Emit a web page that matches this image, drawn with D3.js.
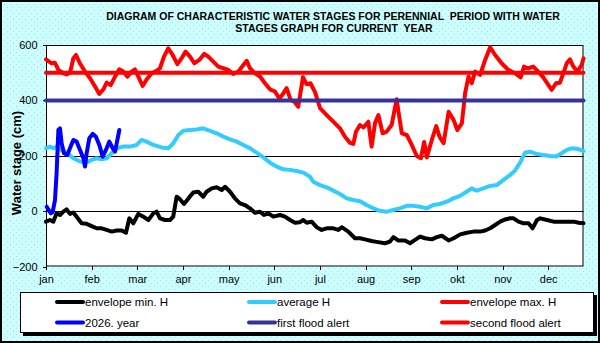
<!DOCTYPE html>
<html>
<head>
<meta charset="utf-8">
<script src="https://cdn.jsdelivr.net/npm/d3@7"></script>
<style>
  body { margin: 0; background: #fff; }
  svg { display: block; font-family: "Liberation Sans", Arial, sans-serif; }
</style>
</head>
<body>
<svg id="chart" width="600" height="343"></svg>
<script>
// month labels and the day of year where each tick sits
var months = ["jan","feb","mar","apr","may","jun","jul","aug","sep","okt","nov","dec"];
var monthDays = [0,31,62,93,124,155,186,217,248,279,310,341];
var yTicks = [-200,0,200,400,600];

// [day of year, water stage cm]
var envMin = [[0,-38],[2.7,-32],[5,-38],[7.2,-8],[9.5,-14],[11.8,-2],[14,6],[16.3,-10],[18.6,-5],[20.8,-20],[24.2,-44],[27.6,-46],[31,-54],[34.4,-62],[37.8,-62],[41.2,-68],[44.6,-74],[48,-70],[51.4,-70],[54.3,-78],[56.6,-26],[59.3,-44],[62.7,-10],[66.1,-20],[69.5,-32],[72.9,-8],[75.1,-2],[77.4,-26],[80.8,-32],[84.2,-32],[86.4,-20],[88.7,52],[91,43],[93.7,26],[96.7,46],[100,67],[103.4,70],[106.8,52],[109.1,70],[112.5,82],[115.9,86],[119.3,76],[121.6,88],[125,70],[128.3,46],[131.7,28],[135.1,22],[138.5,10],[141.9,-6],[145.3,-2],[148,-14],[151,-8],[154.4,-20],[158.9,-14],[162.3,-20],[165.7,-32],[169.1,-42],[172.5,-40],[174.7,-32],[177,-42],[180.4,-38],[183.8,-58],[187.2,-68],[190.6,-62],[195.1,-62],[198.5,-68],[200.8,-58],[205.3,-74],[209.8,-98],[213.2,-98],[216.6,-102],[221.1,-108],[224.5,-111],[230.2,-116],[233.6,-110],[235.9,-94],[239.3,-106],[243.8,-106],[247.2,-116],[250.6,-104],[254,-92],[257.4,-98],[262,-102],[265.4,-94],[268.8,-89],[273.4,-106],[276.8,-98],[281.3,-84],[285.8,-78],[290.3,-74],[294.8,-74],[298.2,-70],[301.6,-62],[305,-50],[308.4,-38],[311.8,-30],[315.2,-26],[317.5,-26],[320.9,-38],[324.3,-44],[327.7,-44],[330.4,-62],[333.4,-32],[335.6,-26],[340.2,-32],[344.7,-38],[349.2,-38],[353.8,-38],[358.3,-38],[361.7,-42],[365,-44]];

var average = [[0,227],[2.7,233],[5,227],[7.2,233],[9.5,223],[14,211],[18.6,191],[23.1,179],[27.6,176],[31,185],[34.4,191],[37.8,187],[41.2,191],[44.6,209],[48,227],[52.5,233],[57,233],[61.6,239],[64.9,257],[68.4,251],[72.9,239],[78.5,230],[83.1,227],[86.5,245],[89.9,275],[93.3,290],[97.8,293],[102.3,295],[106.8,299],[111.4,290],[115.9,281],[120.4,269],[124.9,259],[129.5,251],[134,239],[138.5,227],[143,211],[147.6,194],[152.1,175],[156.6,161],[161.2,151],[165.7,149],[170.2,145],[174.7,139],[179.3,124],[181.5,106],[186.1,94],[190.6,86],[195.1,74],[199.6,62],[204.2,46],[208.7,40],[213.2,36],[217.7,22],[222.3,10],[226.8,1],[231.3,-2],[235.8,4],[240.4,10],[244.9,19],[249.4,19],[254,16],[258.5,10],[263,22],[267.5,26],[272.1,34],[276.6,46],[281.1,55],[285.6,70],[289,82],[292.4,74],[296.9,82],[301.5,91],[306,94],[310.5,112],[315,130],[318.4,146],[321.8,173],[325.3,211],[328.7,215],[333.2,206],[337.7,203],[342.3,199],[346.3,197],[350.2,209],[353.6,221],[357,227],[361.5,224],[365,217]];

var envMax = [[0,548],[3.8,534],[6,536],[8.4,510],[11.8,498],[14,494],[16.3,500],[18.6,552],[20.4,564],[23,534],[26.5,504],[29.9,480],[33.3,450],[36.2,423],[39,440],[41.2,464],[43.9,455],[46.9,486],[49.8,512],[52.5,504],[55.2,486],[58.2,504],[60.4,512],[62.7,486],[65.6,452],[68.4,476],[71.8,498],[75.1,507],[77.4,516],[80.1,558],[83,588],[86,564],[89.2,531],[92.1,552],[94.8,576],[97.8,558],[100.7,534],[104.1,546],[107.5,568],[110.2,558],[113.6,540],[117,522],[120.4,516],[123.8,510],[127.2,495],[130.6,504],[134,528],[136.3,543],[138.5,516],[141.9,498],[145.3,486],[148.7,462],[152.1,440],[155.5,432],[158.4,407],[160,416],[163.4,444],[166.1,402],[168.6,395],[171.3,377],[174.5,484],[177,458],[179.6,462],[182.7,430],[186.1,372],[190.6,347],[195.1,323],[199.6,299],[203,269],[206.4,247],[208.7,243],[210.5,287],[213.2,311],[215.5,302],[218.9,323],[221.1,233],[223.4,317],[225.7,347],[228.6,281],[231.3,287],[234.7,311],[238.1,404],[241.6,281],[245,275],[248.4,239],[251.8,199],[254.6,191],[256.8,250],[258.6,194],[262,257],[265,307],[267.2,269],[270,245],[273.4,359],[276.8,329],[279.3,293],[282.4,317],[284.6,426],[286.9,486],[289.1,462],[291.4,504],[294.8,492],[298.2,546],[301.6,592],[305,564],[309.4,534],[313.9,510],[318.5,498],[322.3,483],[324.6,522],[327.5,516],[330.9,522],[334.3,504],[337.7,483],[341.1,456],[343.4,438],[346.3,462],[349,464],[351.3,498],[353.6,534],[355.8,548],[358.1,522],[360.8,504],[363.8,528],[365,552]];

var year2026 = [[0.5,16],[3.2,-8],[4.5,-4],[6.1,40],[7.2,137],[8.4,293],[9.5,299],[10.6,245],[12.2,209],[14.5,203],[16.7,233],[18.6,257],[20.8,251],[23.1,221],[25.4,191],[26.5,161],[27.6,209],[29.4,263],[31.7,279],[33.9,269],[36.2,239],[38.5,197],[40.7,221],[43,251],[45.3,227],[46.9,215],[48,245],[49.8,293]];

var firstAlert = [[0,400],[365,400]];
var secondAlert = [[0,500],[365,500]];

var series = [
  {name:"envelope min. H", data:envMin, color:"#000000"},
  {name:"average H", data:average, color:"#33ccff"},
  {name:"envelope max. H", data:envMax, color:"#ff0000"},
  {name:"2026. year", data:year2026, color:"#0000ff"},
  {name:"first flood alert", data:firstAlert, color:"#333399"},
  {name:"second flood alert", data:secondAlert, color:"#ff0000"}
];

var svg = d3.select("#chart");
var W = 600, H = 343;
var plotL = 46, plotR = 583.5, plotT = 45, plotB = 266.5;

var x = d3.scaleLinear().domain([0,365]).range([plotL,plotR]);
var y = d3.scaleLinear().domain([-200,600]).range([plotB,plotT]);

// dotted cyan backdrop
var defs = svg.append("defs");
var pat = defs.append("pattern").attr("id","dots")
  .attr("width",6).attr("height",6).attr("patternUnits","userSpaceOnUse");
pat.append("rect").attr("width",6).attr("height",6).attr("fill","#ccffff");
pat.append("rect").attr("x",1).attr("y",1).attr("width",1).attr("height",1).attr("fill","#a8dcea");
pat.append("rect").attr("x",4).attr("y",4).attr("width",1).attr("height",1).attr("fill","#a8dcea");

svg.append("rect").attr("width",W).attr("height",H).attr("fill","url(#dots)");
svg.append("rect").attr("x",1).attr("y",1).attr("width",W-2).attr("height",H-2)
  .attr("fill","none").attr("stroke","#000").attr("stroke-width",2);

// title
var title = svg.append("text").attr("text-anchor","middle")
  .attr("font-size","10.5px").attr("font-weight","bold").attr("fill","#000")
  .style("white-space","pre");
title.append("tspan").attr("x",333).attr("y",20)
  .text("DIAGRAM OF CHARACTERISTIC WATER STAGES FOR PERENNIAL  PERIOD WITH WATER");
title.append("tspan").attr("x",334).attr("y",32)
  .text("STAGES GRAPH FOR CURRENT  YEAR");

// plot area
svg.append("rect").attr("x",plotL).attr("y",plotT)
  .attr("width",plotR-plotL).attr("height",plotB-plotT).attr("fill","#fff");

// gridlines
svg.append("g").selectAll("line")
  .data(yTicks.filter(function(d){ return d>-200 && d<600; }))
  .enter().append("line")
  .attr("x1",plotL).attr("x2",plotR)
  .attr("y1",function(d){ return Math.round(y(d))+0.5; })
  .attr("y2",function(d){ return Math.round(y(d))+0.5; })
  .attr("stroke","#000").attr("stroke-width",1);

svg.append("rect").attr("x",plotL+0.5).attr("y",plotT+0.5)
  .attr("width",plotR-plotL-1).attr("height",plotB-plotT-1)
  .attr("fill","none").attr("stroke","#000").attr("stroke-width",1);

// axes
var yAxis = svg.append("g")
  .attr("transform","translate("+(plotL+0.5)+",0)")
  .call(d3.axisLeft(y).tickValues(yTicks).tickSize(4).tickPadding(5).tickFormat(d3.format("d")));
var xAxis = svg.append("g")
  .attr("transform","translate(0,"+(plotB-0.5)+")")
  .call(d3.axisBottom(x).tickValues(monthDays).tickSize(4).tickPadding(5)
    .tickFormat(function(d,i){ return months[i]; }));
[yAxis,xAxis].forEach(function(a){
  a.select(".domain").remove();
  a.selectAll("line").attr("stroke","#000").attr("shape-rendering","crispEdges");
  a.selectAll("text").attr("fill","#000").attr("font-size","11px")
    .attr("font-family","'Liberation Sans', Arial, sans-serif");
});

svg.append("text")
  .attr("transform","translate(21,163) rotate(-90)")
  .attr("text-anchor","middle").attr("font-size","13px").attr("font-weight","bold")
  .text("Water stage (cm)");

// series lines
var line = d3.line().x(function(d){ return x(d[0]); }).y(function(d){ return y(d[1]); });
svg.append("g").selectAll("path")
  .data(series).enter().append("path")
  .attr("d",function(d){ return line(d.data); })
  .attr("fill","none")
  .attr("stroke",function(d){ return d.color; })
  .attr("stroke-width",4)
  .attr("stroke-linejoin","round")
  .attr("stroke-linecap","round");

// legend
var lg = svg.append("g");
lg.append("rect").attr("x",23).attr("y",295).attr("width",574).attr("height",41).attr("fill","#000");
lg.append("rect").attr("x",20.5).attr("y",292.5).attr("width",573).attr("height",40)
  .attr("fill","#fff").attr("stroke","#000").attr("stroke-width",1);
var colX = [55,247,440], rowY = [302,322.5];
var items = lg.selectAll("g.item").data(series).enter().append("g")
  .attr("transform",function(d,i){ return "translate("+colX[i%3]+","+rowY[Math.floor(i/3)]+")"; });
items.append("line").attr("x1",2).attr("x2",28).attr("y1",0).attr("y2",0)
  .attr("stroke",function(d){ return d.color; }).attr("stroke-width",4).attr("stroke-linecap","round");
items.append("text").attr("x",30).attr("y",0).attr("dy","0.35em")
  .attr("font-size","11.5px").text(function(d){ return d.name; });
</script>
</body>
</html>
